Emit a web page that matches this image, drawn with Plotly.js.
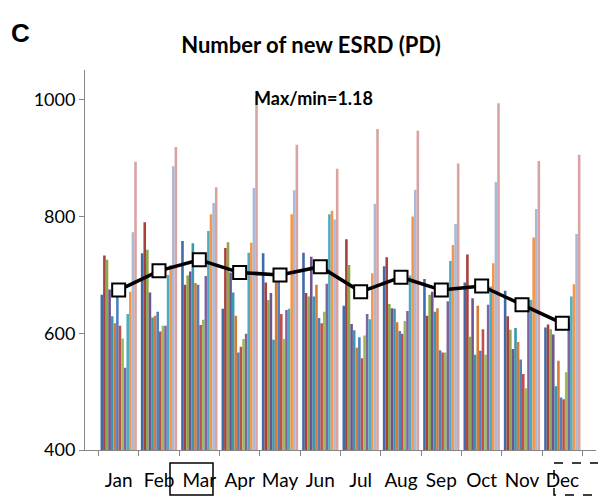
<!DOCTYPE html>
<html>
<head>
<meta charset="utf-8">
<script src="https://cdn.plot.ly/plotly-3.0.1.min.js"></script>
<style>html,body{margin:0;padding:0;background:#fff}#chart{width:598px;height:497px}</style>
</head>
<body>
<div id="chart"></div>
<script>
const months = ['Jan','Feb','Mar','Apr','May','Jun','Jul','Aug','Sep','Oct','Nov','Dec'];
const seriesNames = ['S1','S2','S3','S4','S5','S6','S7','S8','S9','S10','S11','S12','S13','S14'];
const s1  = [666, 737, 758, 642, 737, 738, 647, 715, 693, 687, 673, 610];
const s2  = [733, 790, 683, 746, 687, 669, 761, 730, 630, 735, 629, 615];
const s3  = [726, 743, 699, 756, 657, 663, 717, 650, 666, 594, 606, 607];
const s4  = [675, 670, 706, 704, 669, 731, 616, 643, 671, 660, 573, 598];
const s5  = [629, 627, 754, 670, 589, 663, 605, 642, 637, 563, 609, 509];
const s6  = [617, 630, 686, 630, 697, 683, 575, 619, 643, 647, 585, 553];
const s7  = [669, 637, 683, 567, 691, 626, 593, 604, 571, 570, 555, 490];
const s8  = [613, 603, 614, 577, 633, 617, 557, 599, 567, 607, 530, 487];
const s9  = [591, 613, 623, 590, 590, 637, 596, 621, 567, 563, 506, 533];
const s10 = [541, 613, 698, 599, 640, 685, 633, 638, 655, 649, 658, 618];
const s11 = [633, 700, 775, 738, 642, 804, 624, 699, 724, 680, 657, 663];
const s12 = [671, 717, 804, 755, 804, 810, 703, 800, 751, 720, 764, 684];
const s13 = [773, 886, 823, 849, 845, 795, 822, 846, 787, 859, 813, 770];
const s14 = [894, 919, 850, 1007, 923, 882, 950, 947, 891, 994, 895, 906];
const meanLine = [674, 707, 726, 704, 700, 714, 671, 696, 674, 681, 649, 617];
const yTicks = [400, 600, 800, 1000];

const allSeries = [s1,s2,s3,s4,s5,s6,s7,s8,s9,s10,s11,s12,s13,s14];
const colors = ['#3F6CA8','#A8403D','#8BA84F','#6C5590','#3C96AE','#D47B36',
                '#4F81BD','#C0504D','#9BBB59','#8064A2','#4BACC6','#F79646',
                '#A9B9D8','#D9A3A2'];

const traces = allSeries.map((vals, i) => ({
  type: 'bar', x: months, y: vals, name: seriesNames[i],
  marker: {color: colors[i], line: {width: 0}}, hoverinfo: 'y'
}));
traces.push({
  type: 'scatter', mode: 'lines+markers', x: months, y: meanLine, name: 'Mean',
  line: {color: '#000', width: 3.5},
  marker: {symbol: 'square', size: 13, color: '#fff', line: {color: '#000', width: 2}}
});

const FONT = 'Lato, "Open Sans", sans-serif';
const layout = {
  width: 598, height: 497,
  margin: {l: 85, r: 2, t: 70, b: 47, pad: 0},
  paper_bgcolor: '#fff', plot_bgcolor: '#fff',
  showlegend: false,
  barmode: 'group', bargap: 0.1, bargroupgap: 0,
  font: {family: FONT, color: '#000'},
  title: {text: '<b>Number of new ESRD (PD)</b>', font: {family: FONT, size: 22, color: '#000'},
          x: 311/598, xanchor: 'center', y: 1 - 45/497, yanchor: 'middle'},
  xaxis: {
    type: 'category', tickson: 'boundaries', ticks: 'outside', ticklen: 5,
    tickcolor: '#868686', showline: true, linecolor: '#868686', linewidth: 1,
    showgrid: false, zeroline: false, tickangle: 0,
    tickfont: {family: FONT, size: 19, color: '#000'}, ticklabelstandoff: 13
  },
  yaxis: {
    range: [400, 1051], tickvals: yTicks, ticktext: yTicks.map(String),
    ticks: 'outside', ticklen: 5, tickcolor: '#868686', showline: true,
    linecolor: '#868686', linewidth: 1, showgrid: false, zeroline: false,
    tickfont: {family: FONT, size: 18, color: '#000'}, ticklabelstandoff: 0
  },
  annotations: [
    {text: '<b>C</b>', xref: 'paper', yref: 'paper', x: (9-85)/511, y: (450-33)/380,
     xanchor: 'left', yanchor: 'middle', showarrow: false,
     font: {family: 'Liberation Sans, Arial, sans-serif', size: 26, color: '#000'}},
    {text: '<b>Max/min=1.18</b>', xref: 'paper', yref: 'paper', x: (313-85)/511, y: (450-98)/380,
     xanchor: 'center', yanchor: 'middle', showarrow: false,
     font: {family: FONT, size: 18, color: '#000'}}
  ],
  shapes: [
    {type: 'rect', xref: 'paper', yref: 'paper', x0: (170-85)/511, x1: (213-85)/511,
     y0: (450-463)/380, y1: (450-495)/380, line: {color: '#000', width: 1.5}},
    {type: 'rect', xref: 'paper', yref: 'paper', x0: (554-85)/511, x1: (602-85)/511,
     y0: (450-463)/380, y1: (450-495)/380, line: {color: '#000', width: 1.5, dash: 'dash'}}
  ]
};

Plotly.newPlot('chart', traces, layout, {staticPlot: true, displayModeBar: false});
</script>
</body>
</html>
